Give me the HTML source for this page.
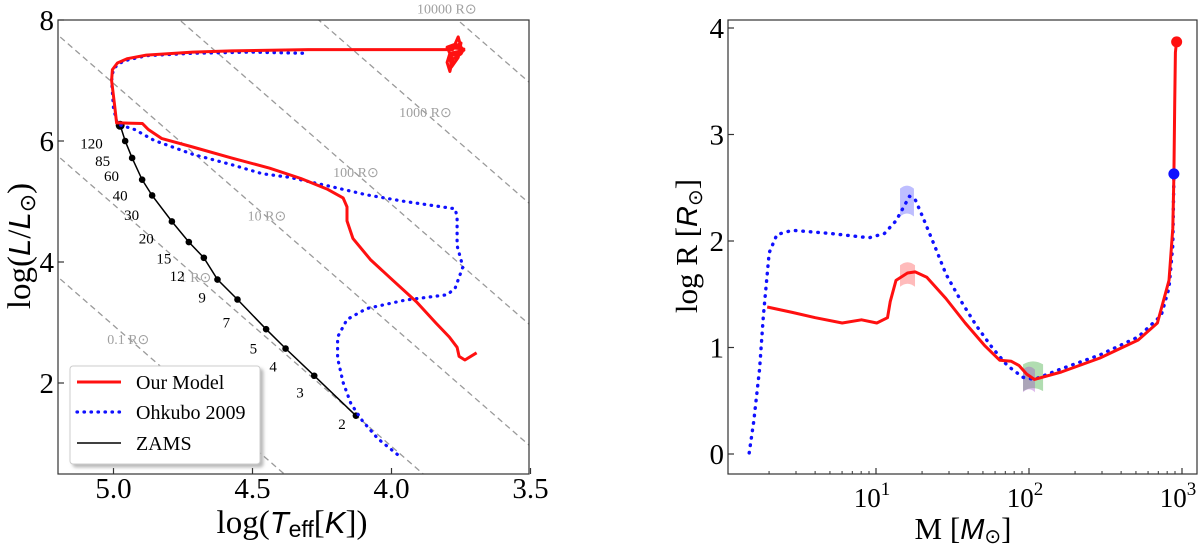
<!DOCTYPE html>
<html><head><meta charset="utf-8"><style>
body{margin:0;background:#fff;overflow:hidden}
svg{display:block;font-family:"Liberation Serif",serif}
</style></head><body>
<svg id="fig" width="1200" height="551" viewBox="0 0 1200 551">
<defs>
<clipPath id="clipL"><rect x="58" y="20" width="471" height="454"/></clipPath>
<clipPath id="clipR"><rect x="728" y="20" width="469" height="454"/></clipPath>
<filter id="sh" x="-10%" y="-10%" width="130%" height="130%"><feDropShadow dx="3" dy="3" stdDeviation="1.5" flood-color="#888" flood-opacity="0.6"/></filter>
</defs>
<g id="left"></g>
<g id="right"></g>
</svg>
<script>
// ---------- Left panel data ----------
const radiusLines = [0.1, 1, 10, 100, 1000, 10000];
const radiusLabels = ["0.1 R\u2299","1 R\u2299","10 R\u2299","100 R\u2299","1000 R\u2299","10000 R\u2299"];
const radiusLabelT = [4.947, 4.705, 4.448, 4.128, 3.878, 3.801];
const radiusLabelL = [2.73, 3.75, 4.77, 5.49, 6.477, 8.19];
const redT = [3.694,3.736,3.757,3.764,3.792,3.840,3.910,3.993,4.076,4.139,4.160,4.160,4.174,4.229,4.326,4.438,4.576,4.715,4.826,4.875,4.896,4.976,4.989,4.996,5.007,5.004,4.986,4.951,4.882,4.715,4.576,4.299,4.021,3.785,3.78,3.76,3.75,3.74,3.79,3.80,3.79,3.78,3.75,3.74,3.80,3.77,3.745,3.79,3.785,3.76,3.75,3.795,3.775];
const redL = [2.50,2.38,2.44,2.59,2.76,2.99,3.34,3.69,4.04,4.39,4.68,4.91,5.06,5.20,5.38,5.55,5.72,5.90,6.04,6.19,6.29,6.30,6.30,6.59,7.00,7.18,7.29,7.36,7.42,7.47,7.49,7.51,7.51,7.51,7.51,7.72,7.55,7.50,7.45,7.30,7.15,7.35,7.44,7.52,7.55,7.60,7.48,7.40,7.22,7.38,7.62,7.50,7.28];
const blueT = [3.979,4.049,4.104,4.146,4.174,4.194,4.194,4.160,4.090,3.951,3.799,3.771,3.743,3.764,3.764,3.771,3.951,4.090,4.229,4.368,4.465,4.576,4.715,4.854,4.924,4.986,5.0,5.007,5.0,4.965,4.882,4.715,4.507,4.313];
const blueL = [0.82,1.08,1.37,1.66,2.01,2.41,2.76,3.05,3.23,3.37,3.46,3.57,3.92,4.27,4.74,4.88,5.00,5.11,5.26,5.40,5.46,5.61,5.78,6.01,6.19,6.28,6.54,7.00,7.20,7.32,7.41,7.45,7.47,7.45];
const zamsT = [4.976,4.958,4.933,4.897,4.861,4.790,4.729,4.675,4.626,4.554,4.451,4.381,4.278,4.128];
const zamsL = [6.26,6.00,5.72,5.36,5.10,4.67,4.33,4.07,3.71,3.38,2.89,2.57,2.12,1.46];
const zamsMass = ["120","85","60","40","30","20","15","12","9","7","5","4","3","2"];
const massLabT = [5.079,5.039,5.007,4.976,4.935,4.882,4.819,4.771,4.681,4.594,4.497,4.426,4.329,4.178];
const massLabL = [5.96,5.67,5.42,5.10,4.78,4.39,4.06,3.77,3.41,3.00,2.57,2.27,1.84,1.32];
const xTicksL = [5.0, 4.5, 4.0, 3.5];
const xTickLabelsL = ["5.0","4.5","4.0","3.5"];
const yTicksL = [2, 4, 6, 8];
const yTickLabelsL = ["2","4","6","8"];

// ---------- Right panel data ----------
const mBlue = [0.171,0.201,0.239,0.264,0.302,0.352,0.452,0.704,0.955,1.055,1.131,1.181,1.219,1.256,1.307,1.382,1.457,1.558,1.658,1.759,1.859,1.960,2.035,2.211,2.462,2.714,2.864,2.915,2.940,2.947];
const rBlue = [0.01,0.31,0.80,1.30,1.89,2.06,2.10,2.07,2.03,2.07,2.19,2.32,2.42,2.39,2.22,1.96,1.69,1.43,1.20,1.00,0.83,0.72,0.70,0.80,0.93,1.10,1.30,1.56,1.96,2.62];
const mRed = [0.289,0.452,0.603,0.779,0.905,1.005,1.075,1.093,1.131,1.206,1.256,1.332,1.457,1.583,1.709,1.809,1.884,1.935,1.985,2.035,2.211,2.462,2.714,2.839,2.915,2.940,2.947,2.952,2.957,2.965];
const rRed = [1.38,1.33,1.28,1.23,1.26,1.23,1.28,1.43,1.63,1.70,1.71,1.66,1.46,1.23,1.02,0.88,0.87,0.83,0.75,0.70,0.77,0.90,1.07,1.23,1.63,2.12,2.62,3.28,3.77,3.88];
const endRed = [2.965, 3.87];
const endBlue = [2.947, 2.63];
const patchNames = ["blue-uncertainty-patch","red-uncertainty-patch","green-uncertainty-patch","purple-uncertainty-patch"];
const patchColors = ["rgba(70,70,255,0.35)","rgba(255,60,60,0.35)","rgba(60,170,60,0.4)","rgba(160,60,200,0.35)"];
const patchM0 = [1.157, 1.157, 1.961, 1.961];
const patchM1 = [1.248, 1.255, 2.092, 2.039];
const patchR0 = [2.23, 1.57, 0.59, 0.58];
const patchR1 = [2.52, 1.80, 0.87, 0.82];
const yTicksR = [0,1,2,3,4];
const yTickLabelsR = ["0","1","2","3","4"];
const xTicksR = [1,2,3];

const NS="http://www.w3.org/2000/svg";
function mk(tag, attrs, parent){const e=document.createElementNS(NS,tag);for(const k in attrs)e.setAttribute(k,attrs[k]);parent.appendChild(e);return e;}
const XL=t=>113.5+(5.0-t)*278, YL=l=>20+(8-l)*60.5;
const XR=m=>876+(m-1)*153, YR=r=>454-r*106.5;
const L=document.getElementById('left'), R=document.getElementById('right');

// ===== LEFT =====
const gl=mk('g',{'clip-path':'url(#clipL)'},L);


radiusLines.forEach((rv,i)=>{
  const f=t=>2*Math.log10(rv)+4*(t-3.762);
  const ln=mk('line',{x1:XL(5.3),y1:YL(f(5.3)),x2:XL(3.4),y2:YL(f(3.4)),stroke:'#9a9a9a','stroke-width':1.3,'stroke-dasharray':'6 4'},gl);
  
  
});
radiusLabels.forEach((s,i)=>{
  const t=mk('text',{x:XL(radiusLabelT[i]),y:YL(radiusLabelL[i])+5,'text-anchor':'middle','font-size':14,fill:'#a0a0a0'},L);
  t.textContent=s;
  
  
});
const pts=(xs,ys,fx,fy)=>xs.map((v,i)=>fx(v).toFixed(1)+','+fy(ys[i]).toFixed(1)).join(' ');
const zl=mk('polyline',{points:pts(zamsT,zamsL,XL,YL),fill:'none',stroke:'#000','stroke-width':1.5},gl);


zamsT.forEach((t,i)=>{
  const c=mk('circle',{cx:XL(t),cy:YL(zamsL[i]),r:i==0?4.5:3.3,fill:'#000'},gl);
  
  
  const tx=mk('text',{x:XL(massLabT[i]),y:YL(massLabL[i])+5,'text-anchor':'middle','font-size':15,fill:'#000'},L);
  tx.textContent=zamsMass[i];
  
  
});
const bl=mk('polyline',{points:pts(blueT,blueL,XL,YL),fill:'none',stroke:'#1010ff','stroke-width':3.2,'stroke-dasharray':'0.5 6.5','stroke-linecap':'round','stroke-linejoin':'round'},gl);


const rl=mk('polyline',{points:pts(redT,redL,XL,YL),fill:'none',stroke:'#ff1010','stroke-width':3,'stroke-linejoin':'round'},gl);


const fl=mk('rect',{x:58,y:20,width:471,height:454,fill:'none',stroke:'#333','stroke-width':1.2},L);


xTicksL.forEach((t,i)=>{
  mk('line',{x1:XL(t),y1:474,x2:XL(t),y2:468,stroke:'#333','stroke-width':1.2},L);
  const tx=mk('text',{x:XL(t),y:498,'text-anchor':'middle','font-size':29},L);
  tx.textContent=xTickLabelsL[i];
  
  
});
yTicksL.forEach((v,i)=>{
  mk('line',{x1:58,y1:YL(v),x2:64,y2:YL(v),stroke:'#333','stroke-width':1.2},L);
  const tx=mk('text',{x:54,y:YL(v)+10,'text-anchor':'end','font-size':29},L);
  tx.textContent=yTickLabelsL[i];
  
  
});
const lg=mk('g',{},L);


mk('rect',{x:70,y:366,width:190,height:98,rx:3,fill:'#fff',stroke:'#ccc','stroke-width':1,filter:'url(#sh)'},lg);
const leg=[["Our Model",'#ff1010',3,''],["Ohkubo 2009",'#1010ff',3.2,'0.5 6.5'],["ZAMS",'#000',1.5,'']];
leg.forEach((e,i)=>{
  const y=[382,412,443][i];
  mk('line',{x1:77,y1:y,x2:121,y2:y,stroke:e[1],'stroke-width':e[2],'stroke-dasharray':e[3],'stroke-linecap':e[3]?'round':'butt'},lg);
  const tx=mk('text',{x:136,y:y+7,'font-size':20},lg);
  tx.textContent=e[0];
  
  
});
const xlL=mk('text',{x:292,y:533,'text-anchor':'middle','font-size':33},L);
xlL.innerHTML='log(<tspan font-family="Liberation Sans, sans-serif" font-style="italic" font-size="31">T</tspan><tspan font-family="Liberation Sans, sans-serif" font-size="23" dy="4">eff</tspan><tspan dy="-4">[</tspan><tspan font-family="Liberation Sans, sans-serif" font-style="italic" font-size="31">K</tspan>])';


const ylL=mk('text',{x:0,y:0,'text-anchor':'middle','font-size':33,transform:'translate(30,246) rotate(-90)'},L);
ylL.innerHTML='log(<tspan font-family="Liberation Sans, sans-serif" font-style="italic" font-size="31">L</tspan>/<tspan font-family="Liberation Sans, sans-serif" font-style="italic" font-size="31">L</tspan><tspan font-size="22" dy="5">\u2299</tspan><tspan dy="-5">)</tspan>';



// ===== RIGHT =====
const gr=mk('g',{'clip-path':'url(#clipR)'},R);


patchNames.forEach((n,i)=>{
  const x0=XR(patchM0[i]),x1=XR(patchM1[i]),yb=YR(patchR0[i]),yt=YR(patchR1[i]);
  const xm=(x0+x1)/2;
  const p=mk('path',{d:`M${x0},${yt+3} Q${xm},${yt-3} ${x1},${yt+3} L${x1},${yb} Q${xm},${yb-6} ${x0},${yb} Z`,fill:patchColors[i]},gr);
  
  
});
const br=mk('polyline',{points:pts(mBlue,rBlue,XR,YR),fill:'none',stroke:'#1010ff','stroke-width':3.4,'stroke-dasharray':'0.5 7','stroke-linecap':'round','stroke-linejoin':'round'},gr);


const rr=mk('polyline',{points:pts(mRed,rRed,XR,YR),fill:'none',stroke:'#ff1010','stroke-width':3,'stroke-linejoin':'round'},gr);


const ce1=mk('circle',{cx:XR(endBlue[0]),cy:YR(endBlue[1]),r:5.5,fill:'#1010ff'},R);


const ce2=mk('circle',{cx:XR(endRed[0]),cy:YR(endRed[1]),r:5.5,fill:'#ff1010'},R);


const fr=mk('rect',{x:728,y:20,width:469,height:454,fill:'none',stroke:'#333','stroke-width':1.2},R);


yTicksR.forEach((v,i)=>{
  mk('line',{x1:728,y1:YR(v),x2:734,y2:YR(v),stroke:'#333','stroke-width':1.2},R);
  const tx=mk('text',{x:724,y:YR(v)+10,'text-anchor':'end','font-size':29},R);
  tx.textContent=yTickLabelsR[i];
  
  
});
for(let d=0;d<3;d++)for(let k=2;k<10;k++){
  const x=XR(d+Math.log10(k)); if(x<728)continue;
  mk('line',{x1:x,y1:474,x2:x,y2:471,stroke:'#333','stroke-width':1},R);
}
xTicksR.forEach(p=>{
  mk('line',{x1:XR(p),y1:474,x2:XR(p),y2:468,stroke:'#333','stroke-width':1.2},R);
  const tx=mk('text',{x:XR(p)-4,y:507,'text-anchor':'middle','font-size':27},R);
  tx.innerHTML='10<tspan font-size="19" dy="-12">'+p+'</tspan>';
  
  
});
const xlR=mk('text',{x:963,y:539,'text-anchor':'middle','font-size':31},R);
xlR.innerHTML='M [<tspan font-family="Liberation Sans, sans-serif" font-style="italic" font-size="29">M</tspan><tspan font-size="20" dy="4">\u2299</tspan><tspan dy="-4">]</tspan>';


const ylR=mk('text',{x:0,y:0,'text-anchor':'middle','font-size':31,transform:'translate(697,246) rotate(-90)'},R);
ylR.innerHTML='log R [<tspan font-family="Liberation Sans, sans-serif" font-style="italic" font-size="29">R</tspan><tspan font-size="20" dy="5">\u2299</tspan><tspan dy="-5">]</tspan>';


</script>
</body></html>
